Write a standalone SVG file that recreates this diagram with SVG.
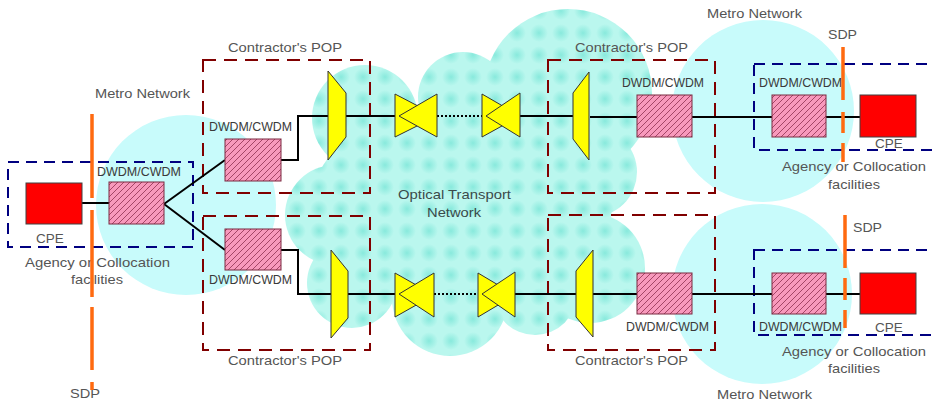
<svg xmlns="http://www.w3.org/2000/svg" width="933" height="404" viewBox="0 0 933 404">
<defs>
<style>
text{font-family:"Liberation Sans",Arial,sans-serif;font-size:13.5px;fill:#555}
.dw{fill:#3a3a3a}
.metro{fill:#c8fbfb}
.pop{fill:none;stroke:#800000;stroke-width:2;stroke-dasharray:13 8}
.agency{fill:none;stroke:#000080;stroke-width:2;stroke-dasharray:11 7}
.sdp{fill:none;stroke:#ff6a10;stroke-width:3.5}
.wdm{fill:url(#hatch);stroke:#7a2a40;stroke-width:1}
.cpe{fill:#ff0000;stroke:#404040;stroke-width:1}
.yel{fill:#ffff00;stroke:#333;stroke-width:1;stroke-linejoin:round}
.ln{fill:none;stroke:#000;stroke-width:2}
.dot{fill:none;stroke:#000;stroke-width:2;stroke-dasharray:2 2}
.cloud{fill:url(#otn)}
</style>
<pattern id="hatch" width="6" height="6" patternUnits="userSpaceOnUse">
<rect width="6" height="6" fill="#f899bc"/>
<path d="M0,6 L6,0 M-1,1 L1,-1 M5,7 L7,5" stroke="#8e3050" stroke-width="0.8"/>
</pattern>
<radialGradient id="spot">
<stop offset="0" stop-color="#7ce6d8"/>
<stop offset="1" stop-color="#7ce6d8" stop-opacity="0"/>
</radialGradient>
<pattern id="otn" width="22" height="22" patternUnits="userSpaceOnUse">
<rect width="22" height="22" fill="#baf7ee"/>
<circle cx="11" cy="11" r="9" fill="url(#spot)" opacity="0.8"/>
</pattern>
</defs>

<g id="metro-left"><circle class="metro" cx="186" cy="205" r="90"/></g>
<g id="metro-top-right"><circle class="metro" cx="763" cy="111" r="91"/></g>
<g id="metro-bottom-right"><circle class="metro" cx="762" cy="294" r="90"/></g>

<g id="otn-cloud">
<circle class="cloud" cx="365" cy="118" r="53"/>
<circle class="cloud" cx="463" cy="97" r="45"/>
<circle class="cloud" cx="568" cy="93" r="84"/>
<circle class="cloud" cx="592" cy="172" r="45"/>
<circle class="cloud" cx="335" cy="215" r="50"/>
<circle class="cloud" cx="590" cy="268" r="55"/>
<circle class="cloud" cx="450" cy="298" r="58"/>
<circle class="cloud" cx="352" cy="283" r="45"/>
<circle class="cloud" cx="535" cy="293" r="42"/>
<ellipse class="cloud" cx="462" cy="205" rx="150" ry="105"/>
</g>

<g id="pop-boxes">
<rect class="pop" x="203" y="60" width="167" height="133"/>
<rect class="pop" x="203" y="216" width="167" height="134"/>
<rect class="pop" x="548" y="60" width="167" height="133"/>
<rect class="pop" x="548" y="215" width="167" height="135"/>
</g>

<g id="agency-boxes">
<rect class="agency" x="8" y="162" width="185" height="85"/>
<rect class="agency" x="754" y="64" width="190" height="86"/>
<rect class="agency" x="754" y="250" width="190" height="85"/>
</g>

<g id="connectors">
<path class="ln" d="M82,203 H109"/>
<path class="ln" d="M164,204 L225,160 M164,204 L225,250"/>
<path class="ln" d="M281,160 H298 V116 H328 M346,116 H395"/>
<path class="dot" d="M437,116 H482"/>
<path class="ln" d="M520,116 H573 M590,117 H637 M692,117 H772 M826,117 H860"/>
<path class="ln" d="M281,250 H298 V294 H331 M348,294 H395"/>
<path class="dot" d="M434,294 H478"/>
<path class="ln" d="M515,294 H576 M593,294 H637 M692,294 H772 M826,294 H860"/>
</g>

<g id="cpe-left"><rect class="cpe" x="26" y="183" width="56" height="41"/><text x="50" y="243" text-anchor="middle">CPE</text></g>
<g id="wdm-left"><rect class="wdm" x="109" y="182" width="55" height="42"/><text class="dw" x="97" y="176" textLength="84" lengthAdjust="spacingAndGlyphs">DWDM/CWDM</text></g>
<g id="wdm-pop-tl"><rect class="wdm" x="225" y="139" width="56" height="42"/><text class="dw" x="209" y="131" textLength="83" lengthAdjust="spacingAndGlyphs">DWDM/CWDM</text></g>
<g id="wdm-pop-bl"><rect class="wdm" x="225" y="229" width="56" height="41"/><text class="dw" x="209" y="284" textLength="83" lengthAdjust="spacingAndGlyphs">DWDM/CWDM</text></g>

<g id="mux-tl"><polygon class="yel" points="328,71 346,93 346,137 328,160"/></g>
<g id="amp-t1"><polygon class="yel" points="395,94 437,116 395,137"/><polygon class="yel" points="437,94 399,116 437,137"/></g>
<g id="amp-t2"><polygon class="yel" points="482,94 520,116 482,137"/><polygon class="yel" points="520,93 486,116 520,137"/></g>
<g id="mux-tr"><polygon class="yel" points="589,72 589,160 573,139 573,93"/></g>

<g id="mux-bl"><polygon class="yel" points="331,250 348,271 348,318 331,338"/></g>
<g id="amp-b1"><polygon class="yel" points="395,273 434,295 395,317"/><polygon class="yel" points="434,273 399,294 434,317"/></g>
<g id="amp-b2"><polygon class="yel" points="478,273 515,295 478,317"/><polygon class="yel" points="515,272 482,294 515,317"/></g>
<g id="mux-br"><polygon class="yel" points="593,250 593,337 576,317 576,271"/></g>

<g id="wdm-pop-tr"><rect class="wdm" x="637" y="95" width="55" height="42"/><text class="dw" x="622" y="87" textLength="82" lengthAdjust="spacingAndGlyphs">DWDM/CWDM</text></g>
<g id="wdm-agency-tr"><rect class="wdm" x="772" y="95" width="54" height="42"/><text class="dw" x="759" y="87" textLength="83" lengthAdjust="spacingAndGlyphs">DWDM/CWDM</text></g>
<g id="cpe-tr"><rect class="cpe" x="860" y="95" width="56" height="42"/><text x="889" y="148" text-anchor="middle">CPE</text></g>

<g id="wdm-pop-br"><rect class="wdm" x="637" y="273" width="55" height="41"/><text class="dw" x="626" y="331" textLength="83" lengthAdjust="spacingAndGlyphs">DWDM/CWDM</text></g>
<g id="wdm-agency-br"><rect class="wdm" x="772" y="273" width="54" height="41"/><text class="dw" x="759" y="331" textLength="83" lengthAdjust="spacingAndGlyphs">DWDM/CWDM</text></g>
<g id="cpe-br"><rect class="cpe" x="860" y="273" width="56" height="41"/><text x="889" y="332" text-anchor="middle">CPE</text></g>

<g id="labels">
<text x="95" y="98" textLength="95" lengthAdjust="spacingAndGlyphs">Metro Network</text>
<text x="25" y="267" textLength="145" lengthAdjust="spacingAndGlyphs">Agency or Collocation</text>
<text x="71" y="284" textLength="52" lengthAdjust="spacingAndGlyphs">facilities</text>
<text x="70" y="398" textLength="30" lengthAdjust="spacingAndGlyphs">SDP</text>
<text x="228" y="52" textLength="114" lengthAdjust="spacingAndGlyphs">Contractor's POP</text>
<text x="228" y="365" textLength="114" lengthAdjust="spacingAndGlyphs">Contractor's POP</text>
<text x="575" y="52" textLength="113" lengthAdjust="spacingAndGlyphs">Contractor's POP</text>
<text x="575" y="365" textLength="113" lengthAdjust="spacingAndGlyphs">Contractor's POP</text>
<text x="398" y="199" textLength="113" lengthAdjust="spacingAndGlyphs" fill="#333" style="fill:#3a4a4a">Optical Transport</text>
<text x="427" y="217" textLength="54" lengthAdjust="spacingAndGlyphs" style="fill:#3a4a4a">Network</text>
<text x="707" y="18" textLength="95" lengthAdjust="spacingAndGlyphs">Metro Network</text>
<text x="828" y="39" textLength="29" lengthAdjust="spacingAndGlyphs">SDP</text>
<text x="782" y="171" textLength="144" lengthAdjust="spacingAndGlyphs">Agency or Collocation</text>
<text x="828" y="189" textLength="52" lengthAdjust="spacingAndGlyphs">facilities</text>
<text x="853" y="232" textLength="29" lengthAdjust="spacingAndGlyphs">SDP</text>
<text x="782" y="356" textLength="144" lengthAdjust="spacingAndGlyphs">Agency or Collocation</text>
<text x="828" y="373" textLength="52" lengthAdjust="spacingAndGlyphs">facilities</text>
<text x="717" y="399" textLength="95" lengthAdjust="spacingAndGlyphs">Metro Network</text>
</g>

<g id="sdp-lines">
<path class="sdp" d="M92,114 V390" stroke-dasharray="84 12 87 10 63 12 8"/>
<path class="sdp" d="M843,47 V162" stroke-dasharray="53 12 21 10 19"/>
<path class="sdp" d="M845,215 V328" stroke-dasharray="53 10 22 10 18"/>
</g>
</svg>
